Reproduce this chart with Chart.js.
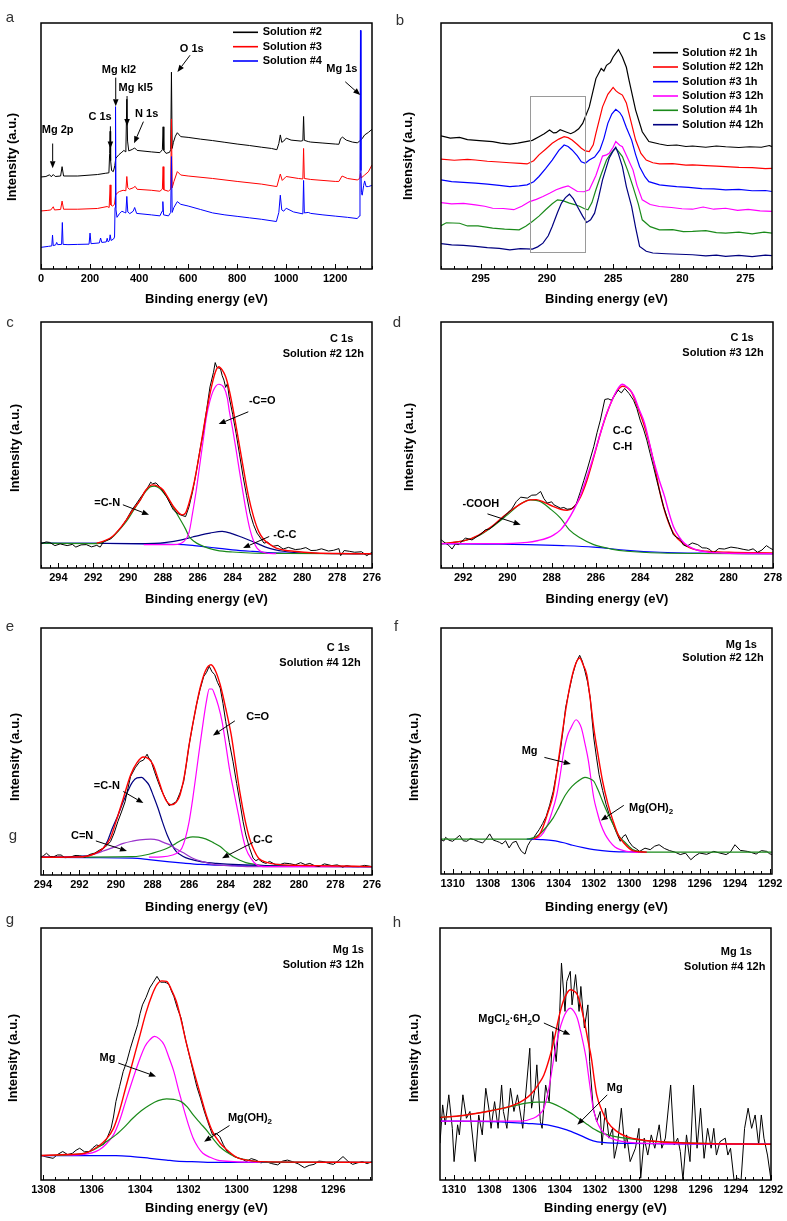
<!DOCTYPE html>
<html>
<head>
<meta charset="utf-8">
<script src="https://cdn.jsdelivr.net/npm/chart.js@4.4.1/dist/chart.umd.min.js"></script>
<style>
  html, body { margin: 0; padding: 0; background: #fff; width: 787px; height: 1221px; overflow: hidden; position: relative; }
  canvas { position: absolute; }
</style>
</head>
<body>
<script>
// ---------- tick labels ----------
const ticksA = [0, 200, 400, 600, 800, 1000, 1200];
const ticksB = [295, 290, 285, 280, 275];
const ticksC = [294, 292, 290, 288, 286, 284, 282, 280, 278, 276];
const ticksD = [292, 290, 288, 286, 284, 282, 280, 278];
const ticksE = [294, 292, 290, 288, 286, 284, 282, 280, 278, 276];
const ticksF = [1310, 1308, 1306, 1304, 1302, 1300, 1298, 1296, 1294, 1292];
const ticksG = [1308, 1306, 1304, 1302, 1300, 1298, 1296];
const ticksH = [1310, 1308, 1306, 1304, 1302, 1300, 1298, 1296, 1294, 1292];

const surveyLabels = ['Solution #2', 'Solution #3', 'Solution #4'];
const c1sLabels = ['Solution #2 1h', 'Solution #2 12h', 'Solution #3 1h', 'Solution #3 12h', 'Solution #4 1h', 'Solution #4 12h'];

// ---------- a: survey spectra [eV, intensity a.u.] ----------
const surveyS2 = [[0,37.4],[20,37.6],[35,38.3],[42,37.5],[50,38.4],[58,37.6],[80,37.8],[86,41.6],[92,37.8],[150,37.8],[230,38.4],[262,38.9],[277,39.1],[280,47],[282,56],[284,44],[288,40],[295,39.6],[301,42],[305,45],[318,46.5],[330,47.5],[338,48.2],[346,47.6],[350,69],[353,52],[358,48],[372,48.6],[382,49.2],[392,48.2],[450,47.6],[485,47.3],[495,48.5],[498,57.8],[501,48.2],[510,47],[524,47.4],[529,48.5],[532,80],[535,49],[540,51.5],[548,54],[556,55.4],[570,53.8],[600,53.5],[650,52.8],[700,52.2],[750,51.5],[800,50.8],[850,50.2],[900,49.5],[940,49],[962,48.5],[970,51],[976,54.5],[982,51.5],[990,52],[1000,53.2],[1020,52.4],[1060,52],[1068,52.2],[1071,62],[1074,52.3],[1090,51.8],[1100,51.6],[1150,51.2],[1200,50.8],[1215,50.7],[1222,53],[1230,53.6],[1245,52.4],[1270,51.6],[1290,51.3],[1300,52],[1310,53],[1320,54.5],[1335,55.5],[1350,56.8]];
const surveyS3 = [[0,23.6],[25,23.8],[40,24],[50,25.3],[55,24],[80,24.2],[86,27.6],[92,24.3],[150,24.3],[230,24.6],[270,25.4],[278,25],[282,34.2],[285,26],[292,25.6],[300,26.3],[304,30],[312,31],[320,31.5],[335,32],[346,31.8],[350,37.6],[354,33],[360,32.4],[376,33],[384,33.6],[392,32.4],[450,32],[485,31.6],[495,32.5],[498,41.6],[501,32.2],[520,31.6],[529,32.5],[532,61],[535,33],[542,35.5],[556,39.6],[570,38.2],[600,37.8],[700,36.8],[800,35.6],[900,34.5],[962,33.5],[976,38.6],[984,36],[1000,37.6],[1050,36.8],[1068,36.6],[1071,49],[1074,36.8],[1100,36.4],[1200,35.6],[1215,35.6],[1228,37.8],[1250,36.8],[1290,36.2],[1300,36.8],[1303,39],[1306,37],[1320,38.2],[1335,39.5],[1350,42.3]];
const surveyS4 = [[0,8.8],[30,9.2],[44,9.4],[47,13.8],[50,9.5],[60,9.8],[64,10.8],[68,9.9],[84,10],[87,18.9],[90,10],[110,9.9],[150,10],[196,10.1],[200,14.6],[204,10.3],[238,10.6],[243,12.6],[248,10.8],[266,11],[270,12.5],[274,11],[279,11.5],[282,13.9],[286,11.6],[296,12.2],[300,13],[302,25],[304,66],[306,24],[310,21],[320,22.5],[330,23.5],[340,23],[346,22.8],[350,29.5],[354,23.2],[362,22.5],[376,23.5],[382,25],[390,22.6],[450,22],[485,21.6],[494,23.5],[497,27.4],[500,22],[520,21.6],[529,23],[532,45.7],[535,23],[542,25],[556,27.4],[570,26.3],[600,25.6],[650,24.2],[700,22.8],[750,22],[800,21.4],[850,20.8],[900,20.2],[960,19.3],[970,23],[976,30],[982,24],[990,23.5],[1000,24.7],[1030,23.2],[1068,22.4],[1071,36],[1074,22.8],[1090,23],[1100,22.6],[1150,22],[1200,21.5],[1250,21],[1290,20.5],[1298,21.5],[1301,40],[1303,97],[1305,40],[1307,31],[1310,30],[1316,34],[1320,35.8],[1326,33.5],[1335,33.5],[1350,34]];

// ---------- b: C 1s stacked ----------
const bS2h1 = [[298,54.1],[297.3,53.2],[296.6,53.5],[296,52.6],[295.1,52.2],[294.1,51.8],[293.5,51.2],[292.8,50.8],[292.2,51.2],[291.6,51.8],[291.1,52.3],[290.6,53.8],[290.2,55],[289.8,56.5],[289.5,55.3],[289.3,55.4],[289,56.6],[288.6,55.8],[288.2,55],[287.9,55.8],[287.6,57],[287.3,59.2],[286.8,65.9],[286.3,77.4],[285.9,81.5],[285.7,80.5],[285.5,82.8],[285.2,84],[285.0,86.2],[284.6,89.2],[284.3,86.2],[284.0,82],[283.8,76.8],[283.3,64.6],[282.8,55.8],[282.3,51.8],[281.5,50.8],[280.9,50.2],[280.2,50.4],[279.5,49.8],[279,50],[278,49.5],[277.2,50],[276.5,49.7],[275.5,49.4],[274.7,49.7],[273.8,49.5],[273.2,50.2],[273,49.7]];
const bS2h12 = [[298,44.7],[297,44.2],[296,44.6],[295.4,44.3],[294.5,43.8],[293.6,43.5],[292.8,43.2],[292,42.9],[291.5,42.7],[291,44],[290.6,46.4],[290.1,48.7],[289.6,51.1],[289.1,52.8],[288.7,53.8],[288.4,53.4],[288.1,52.4],[287.7,50.6],[287.4,49.1],[287.1,48],[286.8,47.7],[286.5,50.5],[286.3,55.1],[285.8,65.9],[285.4,71],[285.0,73.8],[284.8,72.5],[284.6,71.6],[284.3,70.7],[284.0,67.5],[283.8,63.2],[283.3,52.4],[282.9,47],[282.5,44.3],[282,43.2],[281.5,42.7],[280.5,42.8],[279.5,42.2],[279,42.3],[278,42],[277.2,41.8],[276.5,41.6],[275.5,41.3],[274.5,41.2],[273.5,40.8],[273,40.9]];
const bS3h1 = [[298,36.2],[297.2,35.5],[296.3,35.2],[295.4,34.9],[294.5,34.5],[293.6,34],[292.8,33.5],[292.1,33.8],[291.5,34.2],[291,35.5],[290.6,37.6],[290.1,40.8],[289.6,44.3],[289.1,48.2],[288.7,50.4],[288.4,49.8],[288.1,48.4],[287.7,46],[287.4,43.6],[287.1,43],[286.8,44.3],[286.4,45.5],[286.0,48.4],[285.7,53],[285.4,59.2],[285.1,63],[284.8,64.9],[284.5,63.6],[284.3,61.9],[284.0,57.5],[283.6,52.4],[283.3,46.5],[283.0,41.6],[282.6,37.5],[282.3,35.5],[281.5,34.2],[280.8,33.8],[280.2,33.5],[279.3,33.2],[278.3,32.7],[277.4,32.6],[276.5,32.2],[275.5,32.4],[274.5,31.8],[273.5,31.9],[273,31.5]];
const bS3h12 = [[298,27],[297.2,26.5],[296.3,26.7],[295.4,26.1],[294.7,25.5],[294.1,24.7],[293.3,24.6],[292.5,24.1],[291.9,25.5],[291.3,27.4],[290.8,28.3],[290.3,29.5],[289.8,30.8],[289.3,32.2],[288.8,33.2],[288.4,33.8],[288,32.5],[287.7,31.5],[287.2,31.4],[286.8,32.2],[286.3,38],[285.8,45.9],[285.5,46.4],[285.3,47],[285.0,49.5],[284.8,51.8],[284.5,50.3],[284.3,49.7],[283.9,45],[283.5,40.3],[283.2,34],[282.8,28.1],[282.2,26.2],[281.5,25.4],[280.6,25],[279.8,24.5],[279,24.3],[278.2,25.2],[277.4,24.3],[276.5,24.7],[275.6,23.8],[274.8,24.2],[273.9,23.6],[273,23.4]];
const bS4h1 = [[298,17.6],[297.6,18.8],[296.6,18.6],[296,17.5],[295.2,17.5],[294.1,16.6],[293.2,16.2],[292.1,15.9],[291.6,17.4],[291.1,19.3],[290.6,21.5],[290.1,24.1],[289.6,26.5],[289.2,28.1],[288.8,27.8],[288.3,26.8],[287.9,26.2],[287.5,25.4],[287.2,24.6],[286.9,24.1],[286.6,27],[286.3,32.2],[285.9,38.5],[285.5,44.3],[285.1,47.5],[284.8,49.1],[284.6,47.8],[284.3,45.7],[283.9,40],[283.5,33.5],[283.1,26.5],[282.8,20],[282.2,17.2],[281.5,15.9],[280.5,16],[279.7,15.2],[279,15.3],[278,15.6],[277.2,14.8],[276.5,14.6],[275.5,15],[274.5,14.3],[273.6,15],[273,14.6]];
const bS4h12 = [[298,10.3],[297.2,9.8],[296.3,9.6],[295.4,9.2],[294.5,8.7],[293.6,8.4],[292.8,7.8],[292,8.3],[291.1,8.1],[290.7,9],[290.3,10.5],[289.9,13.5],[289.6,17.3],[289.2,23],[288.9,26.8],[288.6,29],[288.3,30.4],[288,28.5],[287.7,25.4],[287.3,21.5],[287.0,18.9],[286.7,20],[286.4,22.7],[286.1,29],[285.8,36.2],[285.5,41.5],[285.3,45],[285.0,48],[284.8,49.5],[284.6,46.8],[284.3,41.6],[284,33.5],[283.6,25.4],[283.3,16.8],[283,9.2],[282.5,7.2],[282,6.5],[281,6.2],[280,6],[279,5.8],[278,5.3],[277.2,5.6],[276.5,5.1],[275.5,5.5],[274.5,5],[273.5,5.6],[273,5.4]];

// ---------- c: C 1s, Solution #2 12h ----------
const cRaw = [[295,9.9],[294.7,10.6],[294.5,10.4],[294.2,9.1],[293.9,9.8],[293.5,9.1],[293.2,9.6],[293,8.5],[292.7,9.4],[292.4,9.5],[292.1,8.6],[291.8,9.2],[291.6,8.5],[291.4,10.8],[291,11.8],[290.7,14.2],[290.4,16.5],[290.1,19.6],[289.8,23.4],[289.5,26.4],[289.2,29.5],[288.9,32.4],[288.7,34.9],[288.6,34.2],[288.4,34.6],[288.2,33.1],[288.0,31.2],[287.8,29.1],[287.6,26.3],[287.4,23.6],[287.2,22.4],[287.0,21.6],[286.7,20.9],[286.5,25],[286.3,31],[286.1,38.5],[285.9,47],[285.7,54.7],[285.5,64],[285.3,73.6],[285.1,79.5],[285.0,83.5],[284.9,81.5],[284.7,81.1],[284.6,78.2],[284.5,76.4],[284.4,73.4],[284.3,75],[284.2,69.6],[284.0,62.5],[283.8,54.7],[283.6,46],[283.4,37.2],[283.2,29.5],[283.0,22.3],[282.8,17.6],[282.6,14.2],[282.4,12.2],[282.2,10.1],[282.0,10.5],[281.7,8.8],[281.4,9.2],[281.1,7.7],[280.8,8.4],[280.4,7.5],[280.1,7.7],[279.8,8.3],[279.5,7.1],[279.2,7.2],[278.9,7.8],[278.5,6.9],[278.2,7.2],[277.9,7.9],[277.8,5],[277.6,7.1],[277.3,6.8],[277,6.4],[276.6,6.6],[276.3,5],[276,6.4]];
const cSum = [[291.8,10.1],[291.3,11.2],[290.9,12.8],[290.5,15.8],[290.1,19.6],[289.7,23.8],[289.3,27.7],[289.0,31.5],[288.6,33.8],[288.3,33.3],[288.0,31.8],[287.7,28.5],[287.4,25],[287.1,22.5],[286.9,21.6],[286.7,22.4],[286.5,26.4],[286.2,35],[285.9,46.6],[285.6,59.5],[285.3,70.9],[285.0,79.5],[284.8,81.8],[284.6,80.5],[284.4,77.7],[284.2,72.5],[284.0,65.5],[283.7,53.5],[283.4,41.2],[283.1,29.5],[282.8,20.9],[282.5,14.8],[282.2,11.5],[281.8,9.3],[281.5,8.1],[281,7.2],[280.5,6.8],[279.5,6.2],[278,5.9],[276,5.8]];
const cCO = [[289.1,9.5],[287.4,9.5],[287.0,9.9],[286.8,10.8],[286.5,14.5],[286.3,22.3],[286.1,31],[285.9,41.2],[285.7,51.5],[285.5,61.5],[285.3,68],[285.1,72.3],[284.8,74.7],[284.5,73.4],[284.3,69],[284.2,64.2],[284.0,56.5],[283.8,48],[283.6,39],[283.4,30.4],[283.2,22.2],[283.0,15.5],[282.8,11],[282.6,8.1],[282.1,6.1],[281.5,5.8]];
const cCN = [[295,10.1],[292,9.9],[291.6,10.1],[291.2,11.3],[290.9,12.6],[290.5,15.5],[290.1,18.9],[289.7,23.3],[289.3,27.7],[289.0,31],[288.7,33.1],[288.5,33.3],[288.2,32.4],[287.9,30],[287.6,27],[287.3,23.3],[287.0,19.6],[286.7,15.8],[286.5,12.8],[286.2,10.8],[285.9,9.5],[285.4,8.1],[284.9,7.2],[284,6.5],[283,6.1],[281,5.9],[276,5.8]];
const cCC = [[295,10.1],[292,10],[289.7,9.9],[288.5,10],[287.8,10.4],[287,11.3],[286.3,12.6],[285.8,13.5],[285.3,14.2],[284.6,14.9],[284.0,13.9],[283.5,12.6],[283.0,11.2],[282.5,9.7],[282.1,8.5],[281.6,7.5],[281.1,6.8],[280.1,6.1],[279,5.9],[276,5.8]];
const cBase = [[295,10.1],[292,10],[289.7,9.9],[288,9.7],[286.8,9.5],[285.8,8.8],[284.9,8.1],[284,7.4],[283,6.8],[282,6.3],[281.1,6.1],[279,5.9],[276,5.8]];

// ---------- d: C 1s, Solution #3 12h ----------
const dRaw = [[293,11.5],[292.8,10.1],[292.65,9.2],[292.5,7.7],[292.35,9.8],[292.2,9.5],[291.9,12.2],[291.6,11.4],[291.4,12.6],[291.2,13.8],[291.0,15.5],[290.8,15.9],[290.5,18.2],[290.3,19.6],[290.0,22.3],[289.8,24],[289.6,27],[289.4,28.8],[289.1,28.4],[288.9,29.6],[288.7,29.7],[288.5,31.1],[288.35,28.2],[288.2,26.4],[288.0,26.9],[287.9,25.7],[287.6,24.3],[287.45,24.6],[287.3,23.9],[287.1,24.1],[286.9,25.7],[286.7,31.1],[286.55,35.5],[286.4,39.9],[286.1,49.3],[285.95,55],[285.8,60.1],[285.6,68.5],[285.45,68.8],[285.3,68.2],[285.15,70.2],[285.0,72.3],[284.85,71.2],[284.7,73],[284.5,70.9],[284.3,68.2],[284.15,64.8],[284.0,60.1],[283.85,56.5],[283.7,52],[283.55,46.5],[283.4,41.2],[283.25,35.6],[283.1,30.4],[282.95,25],[282.8,20.9],[282.5,13.5],[282.35,12.4],[282.2,11.8],[282.05,9.4],[281.9,8.8],[281.65,10.2],[281.4,9.5],[281.2,8.2],[281.0,8.1],[280.85,7.5],[280.7,6.1],[280.45,7.9],[280.2,7.7],[279.9,8.5],[279.6,8.1],[279.35,7.6],[279.1,7.2],[278.9,7.8],[278.7,6.4],[278.5,7.3],[278.3,9.1],[278.15,8.2],[278,7.4]];
const dSum = [[293,9.9],[291.9,11.2],[291.3,13.4],[290.7,16.9],[290.2,20.8],[289.7,24.3],[289.3,26.6],[288.98,27.7],[288.7,27.8],[288.4,27],[288.0,25.3],[287.6,23.9],[287.3,23.5],[287.0,24.7],[286.7,28.8],[286.4,35.8],[286.1,45],[285.8,54.7],[285.5,63],[285.2,69.6],[285.0,72.5],[284.8,73.9],[284.6,73.4],[284.4,71.6],[284.1,65],[283.8,57.4],[283.4,43.5],[283.1,30.4],[282.8,20.5],[282.5,14.2],[282.0,9.5],[281.6,7.7],[281,6.8],[280.0,6.4],[278,6.1]];
const dCC = [[293,9.9],[290.7,9.9],[289.1,10.4],[288.6,11.2],[288.2,12.2],[287.9,13.5],[287.6,15.5],[287.3,19],[287.0,23.6],[286.7,29.5],[286.4,37.2],[286.1,45.5],[285.8,54.7],[285.55,62],[285.3,67.6],[285.0,73],[284.8,74.7],[284.6,73.6],[284.3,70.3],[284.05,64.5],[283.8,58.8],[283.6,51.5],[283.4,43.9],[283.15,36],[282.9,29.1],[282.7,22.5],[282.5,16.9],[282.25,12.8],[282.0,10.1],[281.7,8.3],[281.4,7.2],[280.9,6.4],[280.3,6.1],[278,5.8]];
const dCOOH = [[293,9.9],[292.4,10.4],[291.9,11.2],[291.3,13.1],[290.7,16.6],[290.0,21.6],[289.4,26.1],[288.98,27.7],[288.5,27],[288.1,24.3],[287.6,20.3],[287.2,15.5],[286.7,12.2],[286.1,9.5],[285.3,7.7],[284.6,6.8],[283.1,6.1],[278,5.8]];
const dBase = [[293,9.9],[291,9.7],[289.1,9.5],[287.5,9.1],[286.1,8.5],[284.6,7.2],[283.1,6.4],[281,6],[278,5.8]];

// ---------- e: C 1s, Solution #4 12h ----------
const eRaw = [[294.1,7.2],[293.95,7.9],[293.8,8.8],[293.6,7.5],[293.4,7.4],[293.2,8.1],[293.0,8.1],[292.8,7.0],[292.5,7.2],[292.25,7.9],[292.0,7.8],[291.7,7.2],[291.4,8.4],[291.15,8.9],[290.9,10.1],[290.6,11.2],[290.3,13.5],[290.1,17],[289.9,21.6],[289.7,25.5],[289.5,29.7],[289.35,35],[289.2,39.9],[288.95,43.4],[288.7,45.9],[288.5,46.5],[288.3,48.9],[288.2,47.3],[288.1,46.6],[287.9,42],[287.7,37.8],[287.5,34],[287.3,31.1],[287.1,28.1],[286.9,28.8],[286.7,29.7],[286.5,33.2],[286.3,37.8],[286.15,45],[286.0,52.7],[285.8,61],[285.6,68.9],[285.4,75.2],[285.2,80.4],[285.05,82],[284.9,84.5],[284.75,82.3],[284.6,81.1],[284.45,78],[284.3,75.7],[284.15,69.5],[284.0,62.2],[283.8,53.6],[283.6,45.9],[283.4,37],[283.2,28.4],[283.05,21.6],[282.9,16.2],[282.7,11],[282.5,6.8],[282.35,5.8],[282.2,6.4],[282.0,5.2],[281.8,4.7],[281.6,5.5],[281.3,4.3],[281.0,4.3],[280.8,4.8],[280.5,4.6],[280.2,4.1],[279.9,5],[279.65,4.2],[279.4,4.7],[279.15,3.8],[278.9,3.4],[278.6,4.5],[278.2,3.8],[277.9,4.1],[277.6,3.2],[277.4,3.8],[277.1,3.4],[276.7,3.4],[276.4,3.9],[276,3.4]];
const eSum = [[294.1,7.2],[291.8,7.4],[291.2,8.5],[290.7,10.8],[290.3,15],[290.0,21.6],[289.6,31],[289.2,40.5],[288.85,45.5],[288.5,47.8],[288.2,47],[287.97,44.6],[287.7,39],[287.4,32.4],[287.2,29.5],[286.97,28.4],[286.7,29.5],[286.5,32.4],[286.25,40.5],[286.0,52.7],[285.7,65],[285.4,75.7],[285.1,82.8],[284.8,85.1],[284.55,82.5],[284.3,77],[284.0,67.5],[283.7,56.8],[283.45,44.5],[283.2,32.4],[282.95,22.5],[282.7,14.9],[282.45,10],[282.2,6.8],[281.8,5.2],[281.2,4.3],[280,3.9],[279.1,3.8],[276,3.4]];
const eCO = [[288.2,7.2],[287.5,7.3],[286.9,8.1],[286.6,9.2],[286.4,10.8],[286.2,15],[286.0,21.6],[285.8,31],[285.6,41.9],[285.4,53],[285.2,63.5],[285.05,70.5],[284.9,75.3],[284.75,75.3],[284.6,73],[284.4,68.5],[284.2,62.2],[284.0,53],[283.8,43.2],[283.55,33.5],[283.3,24.3],[283.1,16.5],[282.9,10.8],[282.6,6.5],[282.3,4.1],[281.8,3.4],[276,3.4]];
const eCN = [[294.1,7.2],[292,7.6],[291.4,8.1],[291,9.2],[290.7,10.8],[290.45,14],[290.2,18.9],[289.9,24],[289.6,29.7],[289.35,34],[289.1,37.6],[288.85,39.3],[288.6,39.5],[288.4,38.3],[288.2,36.5],[287.95,32],[287.7,27],[287.45,21.3],[287.2,16.2],[286.95,12.3],[286.7,9.5],[286.35,7.6],[286.0,6.5],[285.3,5.3],[284.5,4.7],[281.8,3.8],[276,3.4]];
const eCdN = [[294.1,7.2],[291.8,7.4],[291.2,8.4],[290.7,9.7],[290.1,11.3],[289.6,12.8],[289.1,13.7],[288.7,14.2],[288.1,14.5],[287.7,14.1],[287.4,13.2],[287.0,12],[286.7,10.5],[286.2,8.5],[285.8,6.8],[285.2,5.3],[284.7,4.3],[283.5,3.7],[282.5,3.4],[276,3.4]];
const eCC = [[294.1,7.2],[289.1,7.4],[288.6,7.8],[288.2,8.4],[287.7,9.5],[287.2,10.8],[286.8,12.4],[286.5,13.8],[286.1,15],[285.8,15.4],[285.5,15.3],[285.1,14.6],[284.7,13.2],[284.3,11.5],[283.95,9.3],[283.6,7.4],[283.2,5.9],[282.9,5],[282.4,4.3],[281.8,3.8],[276,3.4]];
const eBase = [[294.1,7.2],[291.5,7],[289.1,6.8],[288.2,6.2],[287.2,5.4],[286.3,4.8],[285.4,4.3],[283.5,3.8],[281.8,3.6],[276,3.4]];

// ---------- f: Mg 1s, Solution #2 12h ----------
const fRaw = [[1310.66,14],[1310.5,13.4],[1310.4,14.9],[1310.2,13.7],[1310.0,13.3],[1309.8,14.5],[1309.6,15.7],[1309.4,13.5],[1309.2,13.3],[1309.0,14.4],[1308.8,14],[1308.55,13.2],[1308.3,12.6],[1308.1,14.2],[1307.9,16.3],[1307.7,13.8],[1307.5,13.3],[1307.35,12.9],[1307.2,12.2],[1307.0,13.5],[1306.8,10.6],[1306.6,12.8],[1306.4,13.3],[1306.25,11],[1306.1,9.2],[1305.9,8.1],[1305.75,11.5],[1305.6,13.3],[1305.4,14.9],[1305.1,18],[1304.9,20.5],[1304.7,23.4],[1304.5,28],[1304.3,33.6],[1304.1,41.5],[1303.9,49.9],[1303.75,58],[1303.6,67.5],[1303.4,74.5],[1303.2,81],[1303.0,86],[1302.8,88.9],[1302.65,86.5],[1302.5,82.4],[1302.35,78],[1302.2,71.5],[1302.1,63],[1302.0,55.3],[1301.85,47.5],[1301.7,40.4],[1301.5,34],[1301.3,28.2],[1301.1,23.6],[1300.9,20.1],[1300.7,16.5],[1300.5,13.3],[1300.35,15.2],[1300.2,16],[1300.0,13.1],[1299.8,11.2],[1299.6,10.3],[1299.4,9.2],[1299.1,10.5],[1298.8,9.9],[1298.55,11.3],[1298.3,11.9],[1298.0,10.4],[1297.7,9.5],[1297.4,8.9],[1297.1,7.9],[1296.8,8.5],[1296.5,5.8],[1296.25,7.4],[1296.0,8.5],[1295.6,8],[1295.2,9.2],[1294.85,8.5],[1294.5,7.9],[1294.25,9],[1294.0,11.9],[1293.7,9.6],[1293.3,9.2],[1293.05,8.7],[1292.8,8.1],[1292.5,9.5],[1292.2,9.2],[1292.05,8.3],[1291.9,7.9]];
const fSum = [[1305.4,14.2],[1305.1,15.8],[1304.9,18.7],[1304.6,25],[1304.3,32.3],[1304.05,44],[1303.8,56.6],[1303.55,68.5],[1303.3,78.3],[1303.05,85],[1302.8,87.8],[1302.6,85],[1302.4,81],[1302.2,71],[1302.0,59.3],[1301.75,48],[1301.5,37.7],[1301.2,28.5],[1300.9,21.4],[1300.6,15.6],[1300.3,12.6],[1299.8,9.5],[1299.0,8.9]];
const fMg = [[1305.4,14.2],[1305.0,15.5],[1304.7,18.7],[1304.4,24.5],[1304.1,32.2],[1303.9,40.5],[1303.7,49.9],[1303.5,56],[1303.3,59.3],[1303.0,62.7],[1302.85,61.7],[1302.7,59.3],[1302.5,53],[1302.3,45.8],[1302.15,38],[1302.0,30.9],[1301.8,25],[1301.6,20.1],[1301.35,16],[1301.1,13.3],[1300.8,11],[1300.5,9.9],[1299.8,8.9],[1299.0,8.8]];
const fOH = [[1310.66,14.2],[1305.8,14.2],[1305.4,14.8],[1305.1,16],[1304.7,19],[1304.3,22.8],[1303.95,27.5],[1303.6,32.2],[1303.25,35.5],[1302.9,37.7],[1302.5,39.3],[1302.25,38.8],[1302.0,37.7],[1301.75,34],[1301.5,29.5],[1301.2,24.5],[1300.9,20.1],[1300.6,15.7],[1300.3,13.3],[1300.0,11.2],[1299.8,9.9],[1299.0,8.9],[1291.9,8.9]];
const fBase = [[1305.8,14.2],[1305.0,14],[1304.3,13.6],[1303.7,12.7],[1303.2,11.7],[1302.6,10.7],[1302.0,9.9],[1301.1,9.2],[1299.2,8.9]];

// ---------- g: Mg 1s, Solution #3 12h ----------
const gRaw = [[1308.1,9.9],[1307.9,9.2],[1307.6,8.6],[1307.4,10.2],[1307.2,11.3],[1307.0,10.1],[1306.8,10.6],[1306.65,11.8],[1306.5,12.6],[1306.3,11.2],[1306.1,11.3],[1305.95,12.8],[1305.8,13.9],[1305.65,13.5],[1305.5,14.2],[1305.35,17],[1305.2,20.5],[1305.1,25],[1305.0,31.1],[1304.85,37],[1304.7,43],[1304.55,47],[1304.4,52.3],[1304.25,57],[1304.1,61.6],[1304.0,66],[1303.9,69.5],[1303.75,72.5],[1303.6,76.2],[1303.45,78.5],[1303.3,80.8],[1303.15,78.5],[1303.0,78.5],[1302.9,78.2],[1302.8,77.5],[1302.7,75],[1302.6,72.8],[1302.45,68],[1302.3,64.2],[1302.2,59.5],[1302.1,55],[1301.95,49],[1301.8,43],[1301.65,37],[1301.5,32.5],[1301.35,27.5],[1301.2,23.2],[1301.1,20.5],[1301.0,17.9],[1300.85,18.5],[1300.7,17.2],[1300.55,14],[1300.4,11.3],[1300.25,10.5],[1300.1,9.3],[1299.9,8.6],[1299.75,8.2],[1299.6,7.3],[1299.4,8.5],[1299.2,7.9],[1299.0,6.8],[1298.8,7.3],[1298.55,6.5],[1298.3,6],[1298.1,7.5],[1297.9,7.9],[1297.7,7.3],[1297.45,6.4],[1297.2,4.9],[1297.0,5.8],[1296.8,6.2],[1296.6,7.5],[1296.4,7.3],[1296.2,6.6],[1296.0,6.2],[1295.8,7.6],[1295.6,9.3],[1295.4,7.5],[1295.2,6.2],[1295.0,6.8],[1294.8,7.3],[1294.6,6.5],[1294.4,7.3]];
const gSum = [[1308.1,9.7],[1307,10.1],[1306.3,10.6],[1305.7,13.6],[1305.4,16.2],[1305.1,20.5],[1304.85,27.5],[1304.6,36.4],[1304.3,47],[1304.0,57.6],[1303.75,66.5],[1303.5,73.5],[1303.3,77.5],[1303.1,79],[1302.9,78.8],[1302.7,75.5],[1302.5,70.9],[1302.3,63.5],[1302.1,55],[1301.8,44],[1301.5,33.8],[1301.25,25.5],[1301.0,19.2],[1300.7,14.8],[1300.4,11.9],[1300.1,9.6],[1299.9,8.6],[1299.5,7.8],[1299.0,7.3],[1294.4,7]];
const gMg = [[1308.1,9.7],[1306.3,10.2],[1305.7,11.9],[1305.4,14.3],[1305.1,17.9],[1304.85,23.5],[1304.6,31.1],[1304.3,40],[1304.0,48.3],[1303.8,53],[1303.6,55.6],[1303.4,57],[1303.2,56],[1303.0,53.6],[1302.8,48.5],[1302.6,43],[1302.4,35.5],[1302.2,28.5],[1302.0,22],[1301.8,16.6],[1301.6,13],[1301.4,10.6],[1301.1,9],[1300.8,7.9],[1300.1,7.3],[1299.0,7]];
const gOH = [[1308.1,9.7],[1307,10],[1306.3,10.6],[1306.0,11.6],[1305.7,13.2],[1305.35,15.5],[1305.0,17.9],[1304.65,21],[1304.3,24.5],[1303.95,27.5],[1303.6,29.8],[1303.25,31.5],[1302.9,32.2],[1302.6,32],[1302.3,31.1],[1302.05,29],[1301.8,25.8],[1301.5,22.5],[1301.2,19.2],[1300.95,16],[1300.7,13.2],[1300.4,11],[1300.1,9.3],[1299.7,8.2],[1299.3,7.5],[1298.5,7.1],[1294.4,7]];
const gBase = [[1308.1,9.7],[1305.0,9.7],[1304.3,9.3],[1303.6,8.6],[1302.9,7.9],[1302.5,7.5],[1301.6,7.2],[1300.8,7],[1294.4,7]];

// ---------- h: Mg 1s, Solution #4 12h ----------
const hRaw = [[1310.8,14.6],[1310.65,29.8],[1310.5,21.9],[1310.3,33.8],[1310.1,20.5],[1310.0,7.3],[1309.8,21.9],[1309.7,17.9],[1309.5,33.8],[1309.3,24.5],[1309.1,27.2],[1308.8,7.3],[1308.6,25.8],[1308.4,17.9],[1308.2,36.4],[1308.0,27.2],[1307.9,20.5],[1307.7,31.1],[1307.5,20.5],[1307.3,37.7],[1307.2,27.2],[1307.0,20.5],[1306.8,36.4],[1306.6,27.2],[1306.4,33.8],[1306.1,20.5],[1306.0,28.5],[1305.7,52.3],[1305.6,28.5],[1305.4,36.4],[1305.3,45.7],[1305.1,23.2],[1305.0,20.5],[1304.8,37.7],[1304.6,31.1],[1304.4,58.9],[1304.2,47],[1304.0,66.9],[1303.9,86.1],[1303.7,66.9],[1303.6,78.8],[1303.4,82.8],[1303.3,69.5],[1303.1,81.5],[1302.9,66.9],[1302.8,76.8],[1302.6,60.3],[1302.4,69.5],[1302.3,47],[1302.1,28.5],[1301.9,23.2],[1301.7,27.2],[1301.6,13.9],[1301.4,28.5],[1301.2,16.6],[1301.0,20.5],[1300.9,8.6],[1300.7,15.2],[1300.5,28.5],[1300.3,12.6],[1300.2,17.9],[1300.0,7.3],[1299.7,12.6],[1299.5,20.5],[1299.4,0.7],[1299.2,16.6],[1299.0,9.9],[1298.8,17.9],[1298.6,12.6],[1298.35,21.9],[1298.2,12.6],[1298.0,16.6],[1297.7,37.7],[1297.5,13.9],[1297.3,16.6],[1297.15,11.3],[1297.0,0],[1296.8,17.9],[1296.6,7.3],[1296.4,37.7],[1296.2,12.6],[1296.0,28.5],[1295.8,8.6],[1295.6,20.5],[1295.4,12.6],[1295.25,20.5],[1295.1,9.9],[1294.9,15.2],[1294.6,16.6],[1294.45,9.9],[1294.3,12.6],[1294.1,0],[1293.9,0.7],[1293.7,0],[1293.5,20.5],[1293.3,28.5],[1293.1,20.5],[1292.9,25.8],[1292.7,13.9],[1292.55,25.8],[1292.4,16.6],[1292.2,9.9],[1292.0,0]];
const hSum = [[1310.8,24.8],[1309.5,25.6],[1308.7,26.5],[1307.9,27.5],[1307.2,28.5],[1306.6,29.8],[1306.2,31.1],[1305.8,33],[1305.5,35.1],[1305.2,38],[1304.9,41.7],[1304.6,48],[1304.3,56.3],[1304.05,64.5],[1303.8,70.9],[1303.6,74],[1303.4,75.5],[1303.2,75],[1303.0,73.5],[1302.8,69],[1302.6,62.9],[1302.4,55.5],[1302.2,48.3],[1302.05,40.5],[1301.9,33.8],[1301.6,27.5],[1301.3,23.2],[1300.8,19.5],[1300.2,17.2],[1299.2,15.8],[1298.3,15.2],[1296.4,14.6],[1292,14.2]];
const hMg = [[1310.8,24.8],[1309.5,25.6],[1308.7,26.5],[1307.9,27.5],[1307.2,28.5],[1306.5,29.6],[1305.9,30.5],[1305.3,30.9],[1304.7,30.9],[1304.35,30.2],[1304.0,29.1],[1303.6,27.5],[1303.2,25.8],[1302.8,23.8],[1302.4,21.9],[1302.0,20],[1301.7,18.9],[1301.1,17.6],[1300.5,16.8],[1299.0,15.5],[1297.5,14.9],[1296.4,14.6],[1292,14.2]];
const hCl = [[1310.8,23.4],[1307.8,23.4],[1306.2,23.4],[1305.5,24.5],[1305.2,25.8],[1304.9,28.5],[1304.6,37],[1304.3,49.7],[1304.05,58.5],[1303.8,64.2],[1303.6,67],[1303.4,68.2],[1303.2,67],[1303.0,64.2],[1302.75,57],[1302.5,48.3],[1302.3,38],[1302.1,28.5],[1301.9,23.5],[1301.7,20.5],[1301.4,18],[1301.1,16.6],[1300.2,15],[1298.3,14.4],[1292,14.2]];
const hBase = [[1310.8,23.4],[1307.8,23.2],[1305.9,22.5],[1304.5,21.6],[1303.6,19.9],[1302.8,17.6],[1302.1,15.5],[1300.9,14.6],[1292,14.2]];

// ---------- panel setup ----------
const FF = "'Liberation Sans', Arial, Helvetica, sans-serif";
const BLK = '#000000', RED = '#ff0000', BLU = '#0000ff', MAG = '#ff00ff', GRN = '#1a8a1a', NAV = '#000080', PUR = '#9932cc';
const MgOH2 = [['Mg(OH)', 0], ['2', 1]];
const MgCl2 = [['MgCl', 0], ['2', 1], ['\u00b76H', 0], ['2', 1], ['O', 0]];

// series are listed top-most first (Chart.js draws dataset 0 last)
const panels = [
  { id: 'a', col: 0, box: [41, 23, 372, 269], x: [0, 1350], rev: false, ticks: ticksA, minor: 50,
    letters: [['a', 10, 18]], ytitle: [12.5, 157], xtitle: [206.5, 299],
    series: [{ d: surveyS4, c: BLU, w: 1 }, { d: surveyS3, c: RED, w: 1 }, { d: surveyS2, c: BLK, w: 1 }],
    legend: { x1: 233, x2: 258, tx: 262.7, rows: [[32.3, surveyLabels[0], BLK], [46.7, surveyLabels[1], RED], [61, surveyLabels[2], BLU]] },
    notes: [
      { t: 'Mg 2p', at: [68, 56.5], arr: [47.6, 51, 47.6, 41] },
      { t: 'C 1s', at: [241, 61.6], arr: [283, 58, 283, 49] },
      { t: 'Mg kl2', at: [318, 80.8], arr: [304.8, 77.8, 304.8, 66.2] },
      { t: 'Mg kl5', at: [386, 73.4], arr: [351, 70.3, 351, 58.1] },
      { t: 'N 1s', at: [431, 63.2], arr: [417.7, 59.9, 379.6, 51.1] },
      { t: 'O 1s', at: [615, 89.6], arr: [608, 86.9, 556.5, 80.1] },
      { t: 'Mg 1s', at: [1227, 81.5], arr: [1241, 76.1, 1302, 70.7] }
    ] },
  { id: 'b', col: 1, box: [441, 23, 772, 269], x: [273, 298], rev: true, ticks: ticksB, minor: 1,
    letters: [['b', 400, 21]], ytitle: [408, 156], xtitle: [606.5, 299],
    series: [{ d: bS4h12, c: NAV }, { d: bS4h1, c: GRN }, { d: bS3h12, c: MAG }, { d: bS3h1, c: BLU }, { d: bS2h12, c: RED }, { d: bS2h1, c: BLK }],
    legend: { x1: 653, x2: 678, tx: 682.3, rows: [[52.7, c1sLabels[0], BLK], [67, c1sLabels[1], RED], [81.7, c1sLabels[2], BLU], [96, c1sLabels[3], MAG], [110.3, c1sLabels[4], GRN], [124.7, c1sLabels[5], NAV]] },
    insets: [['C 1s', 754.3, 36.7]],
    rect: [291.27, 70.3, 287.12, 6.9],
    notes: [] },
  { id: 'c', col: 0, box: [41, 322, 372, 568], x: [276, 295], rev: true, ticks: ticksC, minor: 0.5,
    letters: [['c', 10, 323]], ytitle: [15, 448], xtitle: [206.5, 599],
    series: [{ d: cSum, c: RED, fit: 1, w: 1.4 }, { d: cRaw, c: BLK, w: 1 }, { d: cCO, c: MAG, fit: 1 }, { d: cCN, c: GRN, fit: 1 }, { d: cCC, c: NAV, fit: 1 }, { d: cBase, c: BLU, fit: 1 }],
    insets: [['C 1s', 341.7, 339.3], ['Solution #2 12h', 323.3, 354]],
    notes: [
      { t: '-C=O', at: [282.3, 67.8], arr: [283.1, 63.5, 284.8, 58.5] },
      { t: '=C-N', at: [291.2, 26.6], arr: [290.3, 25.7, 288.8, 21.6] },
      { t: '-C-C', at: [281, 13.5], arr: [281.9, 12.8, 283.4, 8.1] }
    ] },
  { id: 'd', col: 1, box: [441, 322, 773, 568], x: [278, 293], rev: true, ticks: ticksD, minor: 0.5,
    letters: [['d', 397, 323]], ytitle: [409.7, 447], xtitle: [607, 599],
    series: [{ d: dCC, c: MAG, fit: 1, w: 1.4 }, { d: dRaw, c: BLK, w: 1 }, { d: dSum, c: RED, fit: 1, w: 1.4 }, { d: dCOOH, c: GRN, fit: 1 }, { d: dBase, c: BLU, fit: 1 }],
    insets: [['C 1s', 742, 338.3], ['Solution #3 12h', 723, 353.3]],
    notes: [
      { t: 'C-C', at: [284.8, 55.7] },
      { t: 'C-H', at: [284.8, 49.3] },
      { t: '-COOH', at: [291.2, 26.1], arr: [290.9, 22, 289.4, 17.6] }
    ] },
  { id: 'e', col: 0, box: [41, 628, 372, 875], x: [276, 294.1], rev: true, ticks: ticksE, minor: 0.5,
    letters: [['e', 10, 627], ['g', 13, 836]], ytitle: [15, 757], xtitle: [206.5, 907],
    series: [{ d: eSum, c: RED, fit: 1, w: 1.4 }, { d: eRaw, c: BLK, w: 1 }, { d: eCO, c: MAG, fit: 1 }, { d: eCdN, c: PUR, fit: 1 }, { d: eCN, c: NAV, fit: 1 }, { d: eCC, c: GRN, fit: 1 }, { d: eBase, c: BLU, fit: 1 }],
    insets: [['C 1s', 338.3, 648.3], ['Solution #4 12h', 320, 663.3]],
    notes: [
      { t: 'C=O', at: [282.25, 63.8], arr: [283.5, 62.4, 284.7, 56.5] },
      { t: '=C-N', at: [290.5, 36.2], arr: [289.6, 33.8, 288.5, 29.1] },
      { t: 'C=N', at: [291.85, 15.9], arr: [291.1, 13.8, 289.4, 9.7] },
      { t: 'C-C', at: [281.97, 14.2], arr: [282.5, 13.2, 284.2, 6.8] }
    ] },
  { id: 'f', col: 1, box: [441, 628, 772, 874], x: [1291.9, 1310.66], rev: true, ticks: ticksF, minor: 0.5,
    letters: [['f', 396, 627]], ytitle: [414.7, 757], xtitle: [606.5, 907],
    series: [{ d: fSum, c: RED, fit: 1, w: 1.4 }, { d: fOH, c: GRN, fit: 1 }, { d: fMg, c: MAG, fit: 1 }, { d: fBase, c: BLU, fit: 1 }, { d: fRaw, c: BLK, w: 1 }],
    insets: [['Mg 1s', 741.3, 645], ['Solution #2 12h', 723, 658.3]],
    notes: [
      { t: 'Mg', at: [1305.64, 50.1], arr: [1304.8, 47.4, 1303.3, 44.7] },
      { t: MgOH2, at: [1298.75, 26.8], arr: [1300.3, 27.9, 1301.6, 21.7] }
    ] },
  { id: 'g', col: 0, box: [41, 928, 372, 1180], x: [1294.4, 1308.1], rev: true, ticks: ticksG, minor: 0.5,
    letters: [['g', 10, 920]], ytitle: [13.3, 1058], xtitle: [206.5, 1208],
    series: [{ d: gSum, c: RED, fit: 1, w: 1.4 }, { d: gOH, c: GRN, fit: 1 }, { d: gMg, c: MAG, fit: 1 }, { d: gBase, c: BLU, fit: 1 }, { d: gRaw, c: BLK, w: 1 }],
    insets: [['Mg 1s', 348.3, 950], ['Solution #3 12h', 323.3, 965]],
    notes: [
      { t: 'Mg', at: [1305.35, 48.3], arr: [1304.9, 46.4, 1303.34, 41.1] },
      { t: MgOH2, at: [1299.45, 24.8], arr: [1300.3, 21.6, 1301.35, 15.2] }
    ] },
  { id: 'h', col: 1, box: [440, 928, 771, 1180], x: [1292, 1310.8], rev: true, ticks: ticksH, minor: 0.5,
    letters: [['h', 397, 923]], ytitle: [414.7, 1058], xtitle: [605.5, 1208],
    series: [{ d: hSum, c: RED, fit: 1, w: 1.4 }, { d: hCl, c: MAG, fit: 1 }, { d: hMg, c: GRN, fit: 1 }, { d: hBase, c: BLU, fit: 1 }, { d: hRaw, c: BLK, w: 1 }],
    insets: [['Mg 1s', 736.3, 952.3], ['Solution #4 12h', 724.7, 966.7]],
    notes: [
      { t: MgCl2, at: [1306.86, 64], arr: [1304.9, 62.3, 1303.4, 57.6] },
      { t: 'Mg', at: [1300.88, 36.4], arr: [1301.3, 33.8, 1303.0, 21.9] }
    ] }
];

function rich(ctx, parts, x, y) {
  const big = 'bold 11px ' + FF, small = 'bold 8px ' + FF;
  let w = 0;
  parts.forEach(([s, sub]) => { ctx.font = sub ? small : big; w += ctx.measureText(s).width; });
  let cx = x - w / 2;
  ctx.textAlign = 'left'; ctx.textBaseline = 'middle';
  parts.forEach(([s, sub]) => {
    ctx.font = sub ? small : big;
    ctx.fillText(s, cx, y + (sub ? 4 : 0));
    cx += ctx.measureText(s).width;
  });
}

function arrow(ctx, x1, y1, x2, y2) {
  const a = Math.atan2(y2 - y1, x2 - x1), L = 7, W = 2.8;
  const bx = x2 - L * Math.cos(a), by = y2 - L * Math.sin(a);
  ctx.lineWidth = 1;
  ctx.beginPath(); ctx.moveTo(x1, y1); ctx.lineTo(bx, by); ctx.stroke();
  ctx.beginPath();
  ctx.moveTo(x2, y2);
  ctx.lineTo(bx + W * Math.sin(a), by - W * Math.cos(a));
  ctx.lineTo(bx - W * Math.sin(a), by + W * Math.cos(a));
  ctx.closePath(); ctx.fill();
}

function deco(p, cl, ct) {
  return {
    id: 'deco_' + p.id,
    afterDraw(chart) {
      const ctx = chart.ctx, A = chart.chartArea, X = chart.scales.x, Y = chart.scales.y;
      const px = v => X.getPixelForValue(v), py = v => Y.getPixelForValue(v);
      ctx.save();
      ctx.strokeStyle = '#000'; ctx.fillStyle = '#000';

      // frame
      ctx.lineWidth = 1.5;
      ctx.strokeRect(A.left, A.top, A.right - A.left, A.bottom - A.top);

      // inward ticks on the bottom axis
      ctx.lineWidth = 1;
      ctx.beginPath();
      const lo = Math.min(...p.x), hi = Math.max(...p.x);
      for (let i = Math.ceil(lo / p.minor - 1e-9); i * p.minor <= hi + 1e-9; i++) {
        const v = i * p.minor;
        const major = p.ticks.some(t => Math.abs(t - v) < 1e-6);
        const x = Math.round(px(v)) + 0.5;
        ctx.moveTo(x, A.bottom); ctx.lineTo(x, A.bottom - (major ? 5 : 3));
      }
      ctx.stroke();

      // grey box (panel b)
      if (p.rect) {
        ctx.strokeStyle = '#9a9a9a'; ctx.lineWidth = 1;
        const [x1, y1, x2, y2] = p.rect;
        ctx.strokeRect(Math.round(px(x1)) + 0.5, Math.round(py(y1)) + 0.5, Math.round(px(x2) - px(x1)), Math.round(py(y2) - py(y1)));
        ctx.strokeStyle = '#000';
      }

      // panel letters
      ctx.font = '15px ' + FF; ctx.fillStyle = '#333'; ctx.textAlign = 'center'; ctx.textBaseline = 'middle';
      p.letters.forEach(([s, x, y]) => ctx.fillText(s, x - cl, y - ct));
      ctx.fillStyle = '#000';

      // axis titles
      ctx.font = 'bold 13px ' + FF;
      ctx.fillText('Binding energy (eV)', p.xtitle[0] - cl, p.xtitle[1] - ct);
      ctx.save();
      ctx.translate(p.ytitle[0] - cl, p.ytitle[1] - ct);
      ctx.rotate(-Math.PI / 2);
      ctx.fillText('Intensity (a.u.)', 0, 0);
      ctx.restore();

      // inset labels
      ctx.font = 'bold 11px ' + FF;
      (p.insets || []).forEach(([s, x, y]) => { ctx.textAlign = 'center'; ctx.fillText(s, x - cl, y - ct); });

      // legend
      if (p.legend) {
        const g = p.legend;
        p.legend.rows.forEach(([y, s, c]) => {
          ctx.strokeStyle = c; ctx.lineWidth = 1.6;
          ctx.beginPath(); ctx.moveTo(g.x1 - cl, y - ct); ctx.lineTo(g.x2 - cl, y - ct); ctx.stroke();
          ctx.font = 'bold 11px ' + FF; ctx.textAlign = 'left'; ctx.textBaseline = 'middle';
          ctx.fillText(s, g.tx - cl, y - ct);
        });
        ctx.strokeStyle = '#000';
      }

      // peak annotations with arrows
      p.notes.forEach(n => {
        if (n.arr) arrow(ctx, px(n.arr[0]), py(n.arr[1]), px(n.arr[2]), py(n.arr[3]));
        rich(ctx, typeof n.t === 'string' ? [[n.t, 0]] : n.t, px(n.at[0]), py(n.at[1]));
      });
      ctx.restore();
    }
  };
}

panels.forEach(p => {
  const cl = p.col ? 393 : 0, cw = p.col ? 394 : 393;
  const [L, T, R, B] = p.box;
  const ct = T - 30, ch = B - T + 75;
  const cv = document.createElement('canvas');
  cv.width = cw; cv.height = ch;
  cv.style.left = cl + 'px'; cv.style.top = ct + 'px';
  document.body.appendChild(cv);
  const lo = Math.min(...p.x), hi = Math.max(...p.x);

  new Chart(cv, {
    type: 'line',
    data: {
      datasets: p.series.map(s => ({
        data: s.d.map(([x, y]) => ({ x, y })),
        borderColor: s.c,
        borderWidth: s.w || 1.2,
        pointRadius: 0,
        fill: false,
        tension: s.fit ? 0.4 : 0,
        cubicInterpolationMode: s.fit ? 'monotone' : 'default'
      }))
    },
    options: {
      responsive: false,
      animation: false,
      devicePixelRatio: 1,
      events: [],
      layout: { padding: { left: L - cl, right: cl + cw - R, top: 30, bottom: ch - 30 - (B - T) - 20 } },
      plugins: { legend: { display: false }, tooltip: { enabled: false } },
      scales: {
        x: {
          type: 'linear', min: lo, max: hi, reverse: p.rev,
          grid: { display: false, drawTicks: false },
          border: { display: false },
          ticks: {
            color: '#000', padding: 3, maxRotation: 0, autoSkip: false,
            font: { family: FF, size: 11, weight: 'bold' },
            callback: v => String(v)
          },
          afterBuildTicks: s => { s.ticks = p.ticks.map(v => ({ value: v })); },
          afterFit: s => { s.height = 20; }
        },
        y: { display: false, min: 0, max: 100 }
      }
    },
    plugins: [deco(p, cl, ct)]
  });
});
</script>
</body>
</html>
